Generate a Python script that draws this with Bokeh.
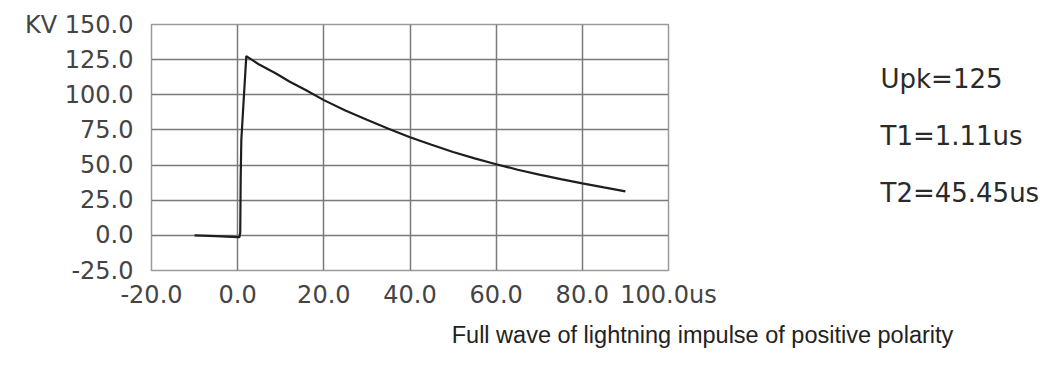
from bokeh.plotting import figure
from bokeh.models import FixedTicker, Label
from bokeh.layouts import row, column
from bokeh.embed import file_html
from bokeh.resources import INLINE

# ---- data ----
time_us = [-10, -5, 0, 0.4, 0.6, 0.7, 0.85, 2.0, 5, 9, 12, 16, 20, 25, 30, 35, 40, 45, 50,
           55, 60, 65, 70, 75, 80, 85, 90]
voltage_kv = [0, -0.6, -1.3, -1.3, 2, 40, 68, 127.5, 121.5, 115, 109.5, 103, 96.2, 88.8, 82.2, 75.8,
              69.8, 64.4, 59.3, 54.8, 50.6, 46.7, 43.2, 40, 37, 34.1, 31.3]

x_ticks = [-20, 0, 20, 40, 60, 80, 100]
x_tick_labels = ["-20.0", "0.0", "20.0", "40.0", "60.0", "80.0", "100.0us"]
y_ticks = [-25, 0, 25, 50, 75, 100, 125, 150]
y_tick_labels = ["-25.0", "0.0", "25.0", "50.0", "75.0", "100.0", "125.0", "KV 150.0"]

params = ["Upk=125", "T1=1.11us", "T2=45.45us"]
caption = "Full wave of lightning impulse of positive polarity"

W1, H1 = 730, 315
p = figure(width=W1, height=H1, output_backend="svg", toolbar_location=None,
           x_range=(-20, 100), y_range=(-25, 150),
           min_border_left=151, min_border_right=W1 - 668,
           min_border_top=24, min_border_bottom=H1 - 270)
p.background_fill_color = "white"
p.border_fill_color = "white"
p.outline_line_color = "#9a9a9a"
p.outline_line_width = 1.5

p.xaxis.ticker = FixedTicker(ticks=x_ticks)
p.yaxis.ticker = FixedTicker(ticks=y_ticks)
p.xaxis.major_label_overrides = {t: l for t, l in zip(x_ticks, x_tick_labels)}
p.yaxis.major_label_overrides = {t: l for t, l in zip(y_ticks, y_tick_labels)}

for ax in (p.xaxis, p.yaxis):
    ax.axis_line_color = None
    ax.major_tick_line_color = None
    ax.minor_tick_line_color = None
    ax.major_tick_out = 0
    ax.major_tick_in = 0
    ax.major_label_text_font = "DejaVu Sans"
    ax.major_label_text_font_size = "24px"
    ax.major_label_text_color = "#444444"
p.xaxis.major_label_standoff = 10
p.yaxis.major_label_standoff = 18

p.xgrid.grid_line_color = "#7a7a7a"
p.ygrid.grid_line_color = "#7a7a7a"
p.xgrid.grid_line_width = 1.5
p.ygrid.grid_line_width = 1.5

p.line(time_us, voltage_kv, line_color="#1e1e1e", line_width=2.2)


def blank(w, h):
    f = figure(width=w, height=h, output_backend="svg", toolbar_location=None,
               x_range=(0, w), y_range=(0, h), min_border=0,
               x_axis_location=None, y_axis_location=None)
    f.grid.visible = False
    f.outline_line_color = None
    f.background_fill_color = "white"
    f.border_fill_color = "white"
    return f


W2 = 1040 - W1
side = blank(W2, H1)
for i, t in enumerate(params):
    side.add_layout(Label(x=880 - W1, y=H1 - (88 + 57 * i) - 35, x_units="screen", y_units="screen",
                          text=t, text_font="DejaVu Sans", text_font_size="26px",
                          text_color="#2a2a2a", text_baseline="alphabetic"))

H3 = 40
cap = blank(1040, H3)
cap.add_layout(Label(x=702, y=H3 - 27 + 8, x_units="screen", y_units="screen",
                     text=caption, text_font="Liberation Sans", text_font_size="23.5px",
                     text_color="#222222", text_align="center", text_baseline="alphabetic"))

layout = column(row(p, side, spacing=0), cap, spacing=0)
open("out.html", "w").write(file_html(layout, INLINE))
